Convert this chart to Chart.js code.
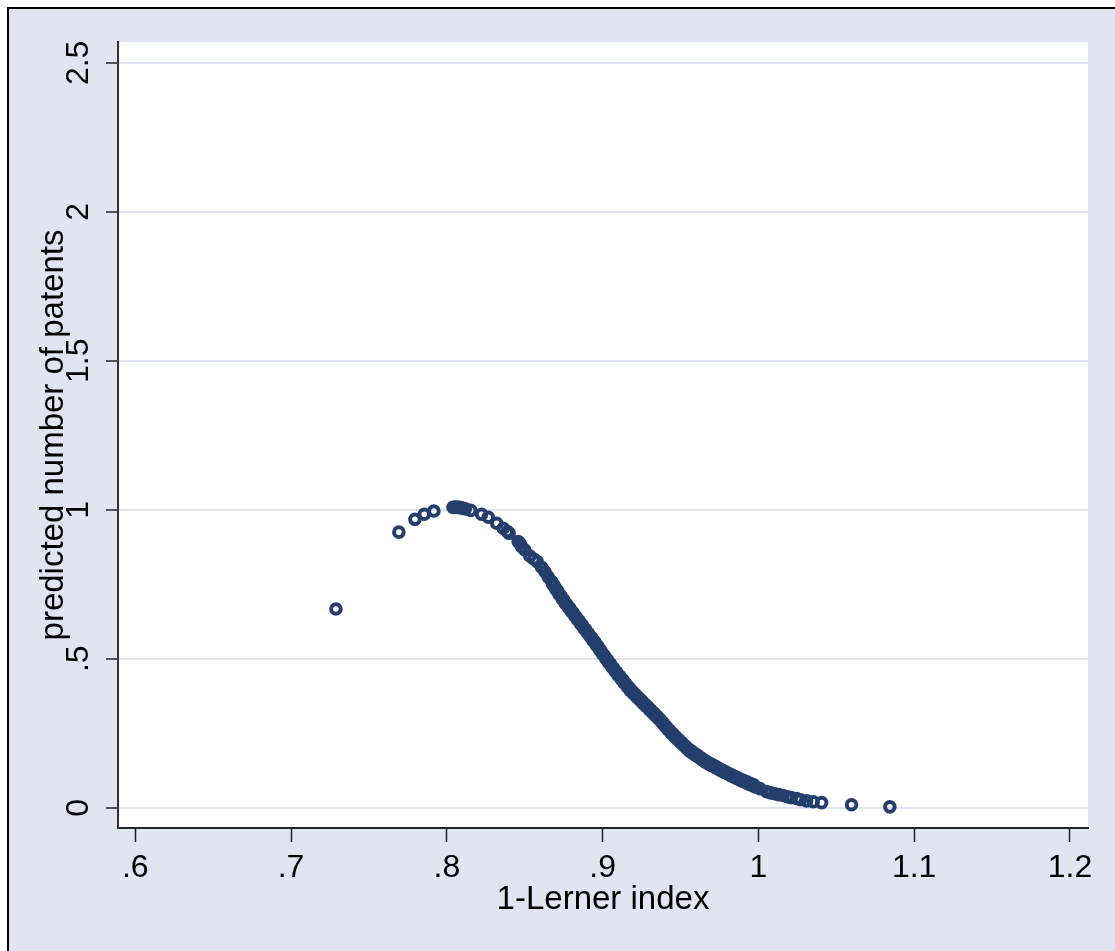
<!DOCTYPE html>
<html>
<head>
<meta charset="utf-8">
<title>predicted number of patents vs 1-Lerner index</title>
<script src="https://cdn.jsdelivr.net/npm/chart.js@4.4.1/dist/chart.umd.min.js"></script>
<style>
  html, body { margin: 0; padding: 0; background: #fff; overflow: hidden; }
  canvas { display: block; }
</style>
</head>
<body>
<canvas id="chart-scatter" width="1115" height="951"></canvas>
<script>
// axis ticks
const xTicks = [0.6, 0.7, 0.8, 0.9, 1.0, 1.1, 1.2];
const xTickLabels = [".6", ".7", ".8", ".9", "1", "1.1", "1.2"];
const yTicks = [0, 0.5, 1, 1.5, 2, 2.5];
const yTickLabels = ["0", ".5", "1", "1.5", "2", "2.5"];

// left part of the curve, single markers still visible
const lernerRise = [0.7288, 0.7692, 0.7795, 0.7855, 0.7917, 0.8040, 0.8055, 0.8068, 0.8080, 0.8093, 0.8105, 0.8118,
  0.8153, 0.8223, 0.8266, 0.8320, 0.8362, 0.8388, 0.8400, 0.8458, 0.8470, 0.8480, 0.8501, 0.8533, 0.8558,
  0.8580, 0.8608, 0.8630, 0.8650, 0.8673];
const patentsRise = [0.667, 0.925, 0.968, 0.985, 0.996, 1.008, 1.009, 1.008, 1.008, 1.006, 1.005, 1.003,
  0.998, 0.985, 0.975, 0.955, 0.938, 0.927, 0.921, 0.893, 0.887, 0.876, 0.865, 0.845, 0.835,
  0.826, 0.807, 0.792, 0.775, 0.759];

// dense band, lower edge
const lernerBandA = [0.868, 0.870, 0.872, 0.874, 0.876, 0.878, 0.880, 0.882, 0.884, 0.886, 0.888, 0.890,
  0.892, 0.894, 0.896, 0.898, 0.900, 0.902, 0.904, 0.906, 0.908, 0.910, 0.912, 0.914, 0.916, 0.918,
  0.920, 0.922, 0.924, 0.926, 0.928, 0.930, 0.932, 0.934, 0.936, 0.938, 0.940, 0.942, 0.944, 0.946,
  0.948, 0.950, 0.952, 0.954, 0.956, 0.958, 0.960, 0.962, 0.964, 0.966, 0.968, 0.970, 0.972, 0.974,
  0.976, 0.978, 0.980, 0.982, 0.984, 0.986, 0.988, 0.990, 0.992, 0.994, 0.996, 0.998];
const patentsBandA = [0.749, 0.733, 0.717, 0.701, 0.686, 0.672, 0.658, 0.644, 0.630, 0.616, 0.602, 0.588,
  0.574, 0.560, 0.545, 0.530, 0.515, 0.500, 0.486, 0.472, 0.458, 0.444, 0.431, 0.418, 0.405, 0.392,
  0.382, 0.371, 0.361, 0.350, 0.340, 0.329, 0.319, 0.308, 0.298, 0.286, 0.274, 0.262, 0.250, 0.239,
  0.229, 0.219, 0.209, 0.199, 0.189, 0.182, 0.175, 0.168, 0.160, 0.153, 0.147, 0.141, 0.136, 0.130,
  0.124, 0.119, 0.114, 0.108, 0.103, 0.098, 0.093, 0.088, 0.084, 0.079, 0.075, 0.070];

// dense band, upper edge
const lernerBandB = [0.869, 0.871, 0.873, 0.875, 0.877, 0.879, 0.881, 0.883, 0.885, 0.887, 0.889, 0.891,
  0.893, 0.895, 0.897, 0.899, 0.901, 0.903, 0.905, 0.907, 0.909, 0.911, 0.913, 0.915, 0.917, 0.919,
  0.921, 0.923, 0.925, 0.927, 0.929, 0.931, 0.933, 0.935, 0.937, 0.939, 0.941, 0.943, 0.945, 0.947,
  0.949, 0.951, 0.953, 0.955, 0.957, 0.959, 0.961, 0.963, 0.965, 0.967, 0.969, 0.971, 0.973, 0.975,
  0.977, 0.979, 0.981, 0.983, 0.985, 0.987, 0.989, 0.991, 0.993, 0.995, 0.997];
const patentsBandB = [0.745, 0.729, 0.713, 0.698, 0.683, 0.669, 0.655, 0.641, 0.627, 0.613, 0.599, 0.585,
  0.571, 0.557, 0.542, 0.527, 0.512, 0.497, 0.483, 0.469, 0.455, 0.442, 0.429, 0.416, 0.403, 0.391,
  0.381, 0.370, 0.360, 0.349, 0.339, 0.328, 0.318, 0.307, 0.296, 0.284, 0.272, 0.260, 0.249, 0.238,
  0.228, 0.218, 0.208, 0.198, 0.190, 0.183, 0.176, 0.168, 0.161, 0.154, 0.148, 0.143, 0.137, 0.131,
  0.126, 0.121, 0.115, 0.110, 0.105, 0.100, 0.095, 0.090, 0.086, 0.081, 0.077];

// right tail
const lernerTail = [1.0010, 1.0053, 1.0080, 1.0105, 1.0130, 1.0159, 1.0185, 1.0210, 1.0245, 1.0270, 1.0309,
  1.0352, 1.0406, 1.0598, 1.0844];
const patentsTail = [0.064, 0.054, 0.050, 0.047, 0.044, 0.041, 0.037, 0.034, 0.031, 0.027, 0.023,
  0.020, 0.017, 0.010, 0.003];

const BG = "#e0e5f0";
const NAVY = "#243f6c";
const FONT = "'Liberation Sans', Arial, sans-serif";

function pairs(xs, ys) {
  return xs.map((x, i) => ({ x, y: ys[i] }));
}

const points = [
  ...pairs(lernerRise, patentsRise),
  ...pairs(lernerBandA, patentsBandA),
  ...pairs(lernerBandB, patentsBandB),
  ...pairs(lernerTail, patentsTail),
];

const frame = {
  id: "frame",
  beforeDraw(chart) {
    const { ctx, width, height, chartArea: a } = chart;
    ctx.save();
    ctx.fillStyle = "#fff";
    ctx.fillRect(0, 0, width, height);
    ctx.fillStyle = BG;
    ctx.fillRect(7, 7, width - 7, height - 7);
    ctx.fillStyle = "#000";
    ctx.fillRect(7, 7, width - 7, 2);
    ctx.fillRect(7, 7, 2, height - 7);
    ctx.fillStyle = "#fff";
    ctx.fillRect(a.left, a.top, a.right - a.left, a.bottom - a.top);
    ctx.restore();
  },
  afterDraw(chart) {
    // vertical y tick labels, Stata style
    const { ctx } = chart;
    const ys = chart.scales.y;
    ctx.save();
    ctx.fillStyle = "#000";
    ctx.font = "32px " + FONT;
    ctx.textAlign = "center";
    ctx.textBaseline = "alphabetic";
    yTicks.forEach((v, i) => {
      const py = ys.getPixelForValue(v);
      ctx.save();
      ctx.translate(88, py);
      ctx.rotate(-Math.PI / 2);
      ctx.fillText(yTickLabels[i], 0, 0);
      ctx.restore();
    });
    ctx.restore();
  },
};

new Chart(document.getElementById("chart-scatter"), {
  type: "scatter",
  data: {
    datasets: [
      {
        label: "predicted number of patents",
        data: points,
        pointStyle: "circle",
        pointRadius: 4.8,
        pointBorderWidth: 4,
        borderColor: NAVY,
        backgroundColor: "rgba(0,0,0,0)",
        pointHoverRadius: 4.8,
      },
    ],
  },
  options: {
    responsive: false,
    animation: false,
    devicePixelRatio: 1,
    events: [],
    layout: { padding: { left: 0, top: 42, right: 27, bottom: 0 } },
    plugins: { legend: { display: false }, tooltip: { enabled: false } },
    scales: {
      x: {
        type: "linear",
        min: 0.5889,
        max: 1.2116,
        afterBuildTicks: (s) => { s.ticks = xTicks.map((v) => ({ value: v })); },
        afterFit: (s) => { s.height = 123; },
        border: { display: true, color: "#222", width: 2 },
        grid: { drawOnChartArea: false, drawTicks: true, tickLength: 14, tickColor: "#222", tickWidth: 1.5 },
        ticks: {
          padding: 7,
          color: "#000",
          font: { family: FONT, size: 32 },
          maxRotation: 0,
          callback: (v) => xTickLabels[xTicks.findIndex((t) => Math.abs(t - v) < 1e-6)],
        },
        title: {
          display: true,
          text: "1-Lerner index",
          color: "#000",
          font: { family: FONT, size: 33 },
          padding: { top: 0, bottom: 31 },
        },
      },
      y: {
        type: "linear",
        min: -0.068,
        max: 2.57,
        afterBuildTicks: (s) => { s.ticks = yTicks.map((v) => ({ value: v })); },
        afterFit: (s) => { s.width = 118; },
        border: { display: true, color: "#333", width: 2 },
        grid: { color: "#dfe3ee", lineWidth: 2, drawTicks: true, tickLength: 12, tickColor: "#222", tickWidth: 1.5 },
        ticks: { display: false },
        title: {
          display: true,
          text: "predicted number of patents",
          color: "#000",
          font: { family: FONT, size: 33 },
          padding: { top: 34, bottom: 0 },
        },
      },
    },
  },
  plugins: [frame],
});
</script>
</body>
</html>
